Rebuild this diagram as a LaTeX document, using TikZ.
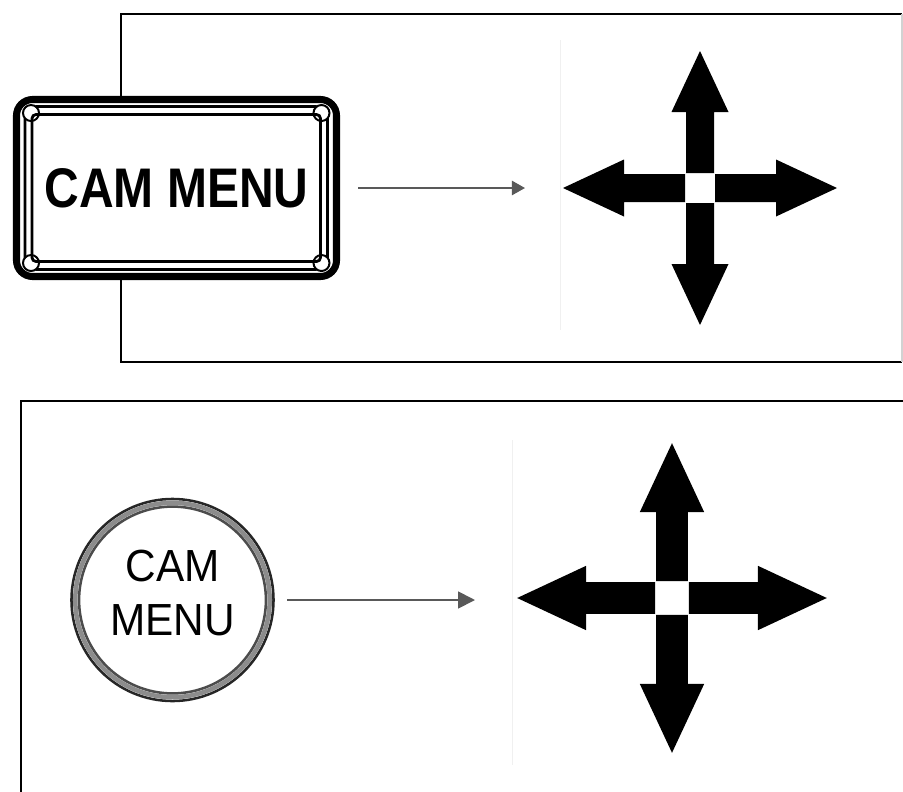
\documentclass[tikz,border=0pt]{standalone}
\usepackage{fontspec}
\newfontfamily\keyfont[FakeStretch=0.86]{Liberation Sans}
\newfontfamily\capfont[FakeStretch=0.94]{Liberation Sans}
\usetikzlibrary{arrows.meta}

% one four-way pad: centre, size
\newcommand\padcross[2]{%
  \foreach \a in {0,90,180,270}
    \fill[shift={#1},scale=#2,rotate=\a] (-14,-15) -- (-14,-76) -- (-28.5,-76)
      -- (0,-137) -- (28.5,-76) -- (14,-76) -- (14,-15) -- cycle;}

\begin{document}
\begin{tikzpicture}[x=0.025cm,y=-0.025cm,
  panel/.style={line width=2.1pt},
  faint/.style={gray!12,line width=0.6pt},
  menuarrow/.style={gray!70!black,line width=1.3pt},
  ringline/.style={line width=1.8pt}]
\useasboundingbox (0,0) rectangle (903,791);

%panels
\draw[panel] (902,14) -- (121,14) -- (121,362) -- (902,362);
\draw[gray!35,line width=0.8pt] (902,14) -- (902,362);
\draw[panel] (21,800) -- (21,401) -- (910,401);
\draw[faint] (560,40) -- (560,330);
\draw[faint] (512,440) -- (512,765);

%rectangular key
\node[minimum width=8.175cm,minimum height=4.6cm,inner sep=0pt] (btn) at (176.5,188) {};
\draw[fill=white,line width=5pt,rounded corners=0.4cm] (16.5,99.5) rectangle (336.5,276.5);
\draw[line width=2pt,rounded corners=0.3cm] (25,106.5) rectangle (327.5,269.5);
\foreach \cx/\cy in {31/113,321.5/113,31/263,321.5/263}
  \draw[line width=1.4pt,fill=white] (\cx,\cy) circle (0.2cm);
\draw[line width=2pt,rounded corners=0.1cm] (32,114.5) rectangle (320.5,261.5);
\node[font=\keyfont\bfseries\fontsize{39.7}{40}\selectfont] (btnlabel) at (btn) {CAM MENU};

%round key
\node[circle,minimum size=5.125cm,inner sep=0pt] (camkey) at (172.5,600) {};
\draw[ringline,black!85] (camkey.center) circle (2.525cm);
\draw[black!45,line width=3.2pt] (camkey.center) circle (2.43cm);
\draw[ringline,black!70] (camkey.center) circle (2.335cm);
\node[align=center,font=\capfont\fontsize{32}{38.4}\selectfont] (camlabel) at (172.5,593.5) {CAM\\MENU};

%arrows
\coordinate (pad1) at (700,188);
\coordinate (pad2) at (672,598);
\coordinate (tip1) at (525,188);
\coordinate (tip2) at (475,600);
\draw[menuarrow,shorten <=0.45cm,-{Triangle[length=0.33cm,width=0.36cm]}] (btn.east) -- (tip1);
\draw[menuarrow,shorten <=0.3cm,-{Triangle[length=0.42cm,width=0.42cm]}] (camkey.east) -- (tip2);

\padcross{(pad1)}{1}
\padcross{(pad2)}{1.13}
\end{tikzpicture}
\end{document}
